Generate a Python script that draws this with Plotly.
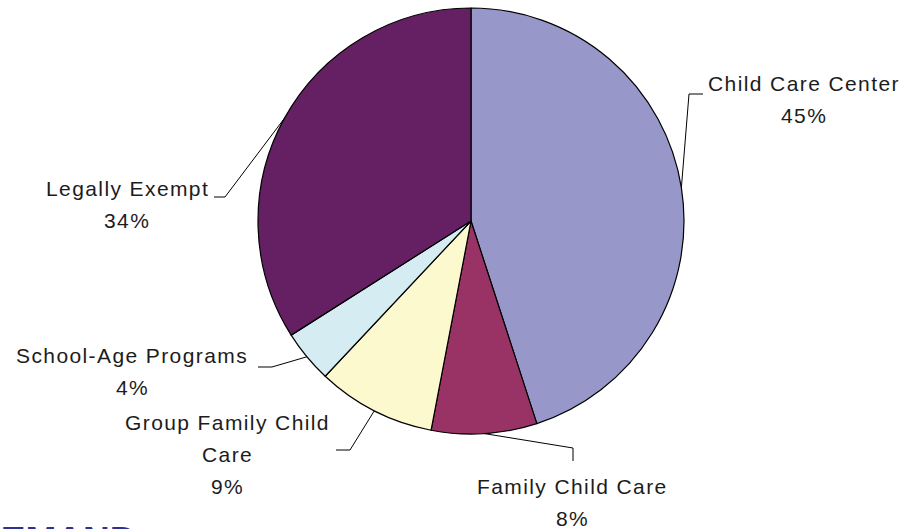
import math
import plotly.graph_objects as go

# Share of children by type of care (percent)
categories = [
    "Child Care Center",
    "Family Child Care",
    "Group Family Child Care",
    "School-Age Programs",
    "Legally Exempt",
]
shares = [45, 8, 9, 4, 34]
label_lines = [
    ["Child Care Center"],
    ["Family Child Care"],
    ["Group Family Child", "Care"],
    ["School-Age Programs"],
    ["Legally Exempt"],
]
slice_colors = ["#9797CA", "#993366", "#FDF9CE", "#D5ECF2", "#642062"]

W, H = 918, 529
CX, CY, R = 471, 221, 213  # pie centre and radius, pixels from top-left

# Label blocks: centre x, first-line centre y, and leader-line elbow points (pixels)
label_layout = [
    dict(x=804, y=84, elbow=[(689, 94), (703, 94)]),
    dict(x=572, y=486, elbow=[(573, 448), (573, 461)]),
    dict(x=227, y=422, elbow=[(350, 450), (336, 450)]),
    dict(x=132, y=355, elbow=[(272, 367), (258, 367)]),
    dict(x=127, y=188, elbow=[(225, 197), (214, 197)]),
]
LINE_PITCH = 32
FONT = dict(family="Liberation Sans, Arial, sans-serif", size=21, color="#1c1c1c")


def px(x):
    return x / W


def py(y):
    return 1 - y / H


def spaced(s):
    return f'<span style="letter-spacing:1.4px">{s}</span>'


fig = go.Figure(
    go.Pie(
        labels=categories,
        values=shares,
        sort=False,
        direction="clockwise",
        rotation=0,
        textinfo="none",
        hoverinfo="label+percent",
        marker=dict(colors=slice_colors, line=dict(color="#000000", width=1.2)),
        domain=dict(x=[px(CX - R), px(CX + R)], y=[py(CY + R), py(CY - R)]),
        showlegend=False,
    )
)

annotations = []
shapes = []
total = sum(shares)
cum = 0.0
for name_lines, value, lay in zip(label_lines, shares, label_layout):
    mid = (cum + value / 2) / total
    cum += value
    theta = 2 * math.pi * mid
    ax = CX + R * math.sin(theta)
    ay = CY - R * math.cos(theta)

    lines = name_lines + [f"{value}%"]
    for i, line in enumerate(lines):
        annotations.append(
            dict(
                x=px(lay["x"]), y=py(lay["y"] + i * LINE_PITCH),
                xref="paper", yref="paper",
                xanchor="center", yanchor="middle",
                text=spaced(line), showarrow=False, font=FONT,
            )
        )

    pts = [(ax, ay)] + lay["elbow"]
    path = "M " + " L ".join(f"{px(x)},{py(y)}" for x, y in pts)
    shapes.append(
        dict(type="path", path=path, xref="paper", yref="paper",
             line=dict(color="#000000", width=1))
    )

# Heading running off the bottom-left edge of the slide
annotations.append(
    dict(
        x=px(138), y=py(518), xref="paper", yref="paper",
        xanchor="right", yanchor="top", showarrow=False,
        text="<b>DEMAND</b>",
        font=dict(family="Liberation Sans, Arial, sans-serif", size=37, color="#2E3192"),
    )
)

fig.update_layout(
    width=W, height=H,
    margin=dict(l=0, r=0, t=0, b=0),
    paper_bgcolor="#FFFFFF",
    plot_bgcolor="#FFFFFF",
    annotations=annotations,
    shapes=shapes,
)

fig.write_html("out.html")
